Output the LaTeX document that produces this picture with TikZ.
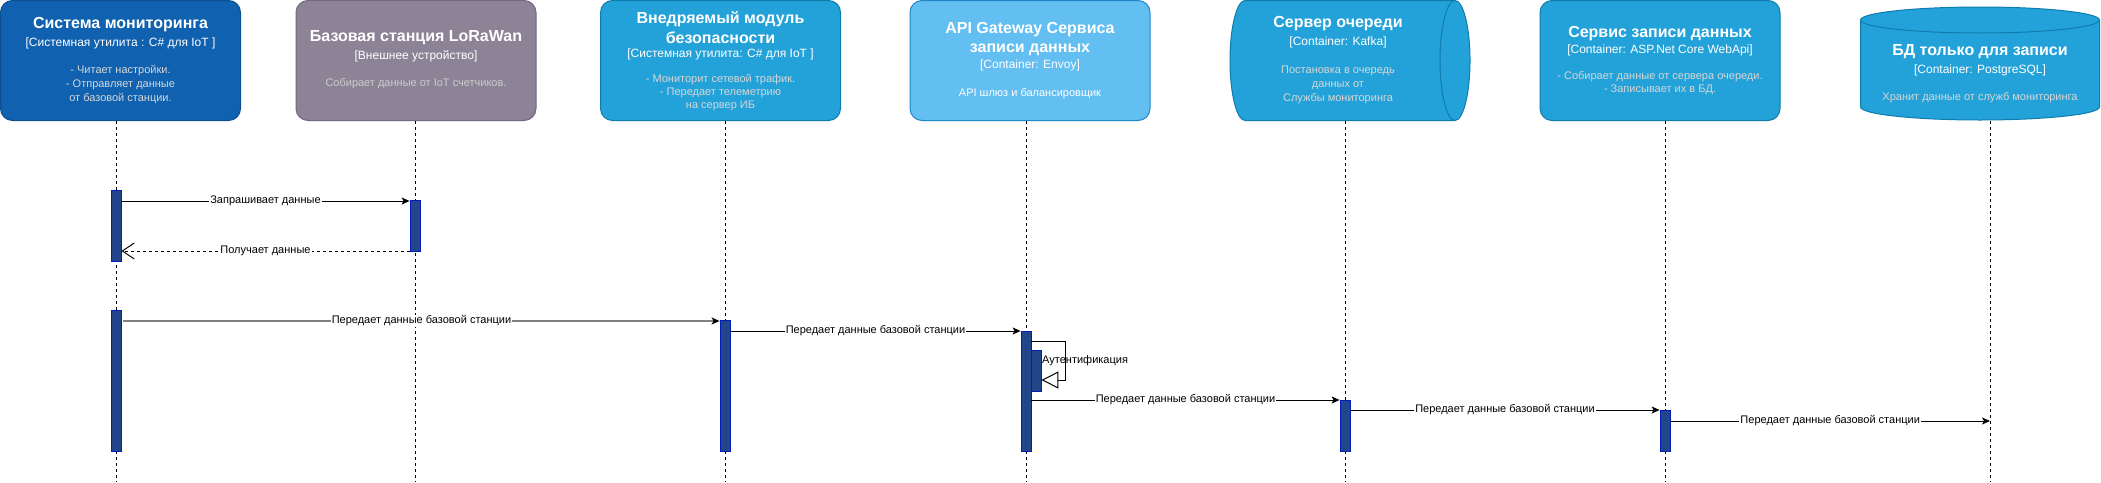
\documentclass[tikz,border=0pt]{standalone}
\usepackage{fontspec}
\setmainfont{Liberation Sans}
\usetikzlibrary{arrows.meta}
\definecolor{sysblue}{HTML}{1061B0}
\definecolor{sysbluestroke}{HTML}{0D5091}
\definecolor{extgray}{HTML}{8C8496}
\definecolor{extgraystroke}{HTML}{736782}
\definecolor{contblue}{HTML}{23A2D9}
\definecolor{contstroke}{HTML}{0E7DAD}
\definecolor{compblue}{HTML}{63BEF2}
\definecolor{compstroke}{HTML}{2086C9}
\definecolor{descgray}{HTML}{D6D6D6}
\definecolor{descgraydk}{HTML}{CCCCCC}
\definecolor{actfill}{HTML}{23468A}
\definecolor{actstroke}{HTML}{001DBC}
\definecolor{msggray}{HTML}{808080}
\begin{document}
\begin{tikzpicture}[x=1pt,y=-1pt,
  hbox/.style={rectangle, rounded corners=12pt, line width=1pt, minimum width=240pt, minimum height=120pt, inner sep=0pt},
  ttl/.style={text=white, font=\fontsize{16}{20}\selectfont\bfseries, align=center, inner sep=0pt},
  sub/.style={text=white, font=\fontsize{12}{14}\selectfont, inner sep=0pt},
  desc/.style={text=descgray, font=\fontsize{11}{14}\selectfont, align=center, inner sep=0pt},
  lifeline/.style={dash pattern=on 3pt off 3pt, line width=0.8pt, draw=black},
  act/.style={rectangle, fill=actfill, draw=actstroke, line width=0.8pt, minimum width=10pt, inner sep=0pt},
  msg/.style={line width=1pt, -{Stealth[length=8pt,width=7pt,inset=2pt]}},
  ret/.style={line width=1pt, dash pattern=on 3pt off 3pt, -{Straight Barb[length=12pt,width=16pt]}},
  lbl/.style={fill=white, font=\fontsize{11}{13}\selectfont, inner sep=1pt, text=black},
]
\useasboundingbox (0,0) rectangle (2101,482);

% ---------- header boxes ----------
\node[hbox, fill=sysblue, draw=sysbluestroke] (b1) at (120.5,60.5) {};
\node[ttl] (b1t) at (120.5,25) {Система мониторинга};
\node[sub] (b1s) at (120.5,43) {[Системная утилита : C\# для IoT ]};
\node[desc] (b1d) at (120.5,85) {- Читает настройки.\\- Отправляет данные\\от базовой станции.};

\node[hbox, fill=extgray, draw=extgraystroke] (b2) at (416,60.5) {};
\node[ttl] (b2t) at (416,38) {Базовая станция LoRaWan};
\node[sub] (b2s) at (416,56) {[Внешнее устройство]};
\node[desc, text=descgraydk] (b2d) at (416,84) {Собирает данные от IoT счетчиков.};

\node[hbox, fill=contblue, draw=contstroke] (b3) at (720.5,60.5) {};
\node[ttl] (b3t) at (720.5,28) {Внедряемый модуль\\безопасности};
\node[sub] (b3s) at (720.5,54) {[Системная утилита: C\# для IoT ]};
\node[desc, font=\fontsize{11}{13}\selectfont] (b3d) at (720.5,93) {- Мониторит сетевой трафик.\\- Передает телеметрию\\на сервер ИБ};

\node[hbox, fill=compblue, draw=compstroke] (b4) at (1030,60.5) {};
\node[ttl, font=\fontsize{16}{19}\selectfont\bfseries] (b4t) at (1030,39.5) {API Gateway Сервиса\\записи данных};
\node[sub] (b4s) at (1030,65) {[Container: Envoy]};
\node[desc, text=white] (b4d) at (1030,94) {API шлюз и балансировщик};

% Kafka cylinder (horizontal)
\draw[fill=contblue, draw=contstroke, line width=1pt] (1245,0.5) -- (1455,0.5)
  arc[start angle=90, end angle=-90, x radius=15pt, y radius=60pt] -- (1245,120.5)
  arc[start angle=270, end angle=90, x radius=15pt, y radius=60pt] -- cycle;
\draw[draw=contstroke, line width=1pt] (1455,0.5) arc[start angle=90, end angle=270, x radius=15pt, y radius=60pt];
\coordinate (b5) at (1345,60.5);
\node[ttl] (b5t) at (1338,24) {Сервер очереди};
\node[sub] (b5s) at (1338,42) {[Container: Kafka]};
\node[desc] (b5d) at (1338,85) {Постановка в очередь\\данных от\\Службы мониторинга};

\node[hbox, fill=contblue, draw=contstroke] (b6) at (1660,60.5) {};
\node[ttl] (b6t) at (1660,34) {Сервис записи данных};
\node[sub] (b6s) at (1660,50) {[Container: ASP.Net Core WebApi]};
\node[desc, font=\fontsize{11}{13}\selectfont] (b6d) at (1660,83.5) {- Собирает данные от сервера очереди.\\- Записывает их в БД.};

% DB cylinder (vertical)
\draw[fill=contblue, draw=contstroke, line width=1pt] (1860.5,20) -- (1860.5,107)
  arc[start angle=180, end angle=360, x radius=119.5pt, y radius=13pt] -- (2099.5,20)
  arc[start angle=0, end angle=180, x radius=119.5pt, y radius=13pt] -- cycle;
\draw[draw=contstroke, line width=1pt] (1860.5,20) arc[start angle=180, end angle=360, x radius=119.5pt, y radius=13pt];
\coordinate (b7) at (1980,60.5);
\node[ttl] (b7t) at (1980,52) {БД только для записи};
\node[sub] (b7s) at (1980,70) {[Container: PostgreSQL]};
\node[desc] (b7d) at (1980,98) {Хранит данные от служб мониторинга};

% ---------- lifelines ----------
\coordinate (l1) at (116,482);
\coordinate (l2) at (415,482);
\coordinate (l3) at (725,482);
\coordinate (l4) at (1026,482);
\coordinate (l5) at (1345,482);
\coordinate (l6) at (1665,482);
\coordinate (l7) at (1990,482);
\draw[lifeline] (116,121) -- (l1);
\draw[lifeline] (415,121) -- (l2);
\draw[lifeline] (725,121) -- (l3);
\draw[lifeline] (1026,121) -- (l4);
\draw[lifeline] (1345,121) -- (l5);
\draw[lifeline] (1665,121) -- (l6);
\draw[lifeline] (1990,121) -- (l7);

% ---------- activation bars ----------
\node[act, minimum height=71pt] (a1) at (116,225.5) {};
\node[act, minimum height=51pt] (a2) at (415,225.5) {};
\node[act, minimum height=141pt] (a3) at (116,380.5) {};
\node[act, minimum height=131pt] (a4) at (725,385.5) {};
\node[act, minimum height=120pt] (a5) at (1026,391) {};
\node[act, minimum height=41pt] (a6) at (1036,370.5) {};
\node[act, minimum height=51pt] (a7) at (1345,425.5) {};
\node[act, minimum height=41pt] (a8) at (1665,430.5) {};

% ---------- message levels ----------
\coordinate (m1) at (0,201);
\coordinate (m2) at (0,251);
\coordinate (m3) at (0,321);
\coordinate (m4) at (0,331);
\coordinate (s1) at (0,341);
\coordinate (s2) at (0,380);
\coordinate (sc) at (1065,380);
\coordinate (m5) at (0,400);
\coordinate (m6) at (0,410);
\coordinate (m7) at (0,421);

\draw[msg] (a1.east |- m1) -- node[lbl] (m1l) {Запрашивает данные} (a2.west |- m1);
\draw[ret] (a2.west |- m2) -- node[lbl] (m2l) {Получает данные} (a1.east |- m2);
\draw[line width=2pt, draw=msggray, -{Stealth[length=8pt,width=7pt,inset=2pt,color=black]}] ([xshift=2pt]a3.east |- m3) -- node[lbl] (m3l) {Передает данные базовой станции} (a4.west |- m3);
\draw[msg] (a4.east |- m4) -- node[lbl] (m4l) {Передает данные базовой станции} (a5.west |- m4);
\draw[line width=1pt, -{Triangle[open, length=17pt, width=17pt]}] (a5.east |- s1) -| (sc) -- (a6.east |- s2);
\node[anchor=west, inner sep=0pt, font=\fontsize{11}{13}\selectfont] (authl) at (1042,361) {Аутентификация};
\draw[msg] (a5.east |- m5) -- node[lbl] (m5l) {Передает данные базовой станции} (a7.west |- m5);
\draw[msg] (a7.east |- m6) -- node[lbl] (m6l) {Передает данные базовой станции} (a8.west |- m6);
\draw[msg] (a8.east |- m7) -- node[lbl] (m7l) {Передает данные базовой станции} (l7 |- m7);
\end{tikzpicture}
\end{document}
